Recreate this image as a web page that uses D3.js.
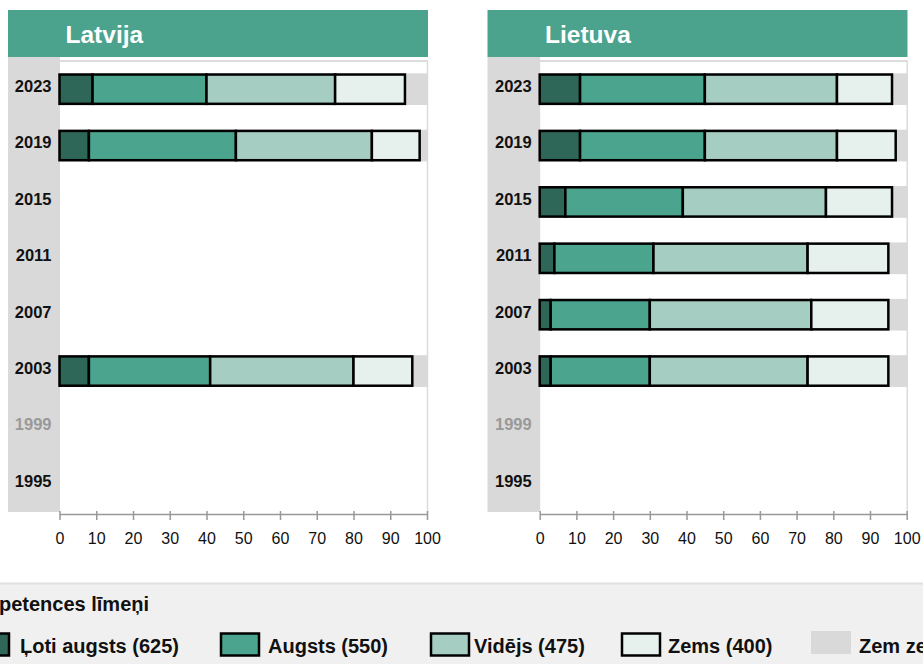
<!DOCTYPE html>
<html><head><meta charset="utf-8">
<script src="https://cdn.jsdelivr.net/npm/d3@7"></script>
<style>
html,body{margin:0;padding:0;background:#fff;}
svg{display:block;font-family:"Liberation Sans",Arial,sans-serif;}
</style></head>
<body><svg id="c" width="923" height="664"></svg>
<script>
// ---- data ----
const years = ["2023","2019","2015","2011","2007","2003","1999","1995"];
const greyYears = ["1999"];
const countries = ["Latvija","Lietuva"];
const levels = ["Ļoti augsts (625)","Augsts (550)","Vidējs (475)","Zems (400)","Zem zemā līmeņa"];
const levelColors = ["#2e6657","#4ba48e","#a6cdc1","#e6f0ec","#d9d9d9"];
const legendTitle = "Kompetences līmeņi";
const xTicks = [0,10,20,30,40,50,60,70,80,90,100];

// segment widths (%) per year, null = no data
const lvVeryHigh = [9, 8, null, null, null, 8, null, null];
const lvHigh     = [31, 40, null, null, null, 33, null, null];
const lvMedium   = [35, 37, null, null, null, 39, null, null];
const lvLow      = [19, 13, null, null, null, 16, null, null];

const ltVeryHigh = [11, 11, 7, 4, 3, 3, null, null];
const ltHigh     = [34, 34, 32, 27, 27, 27, null, null];
const ltMedium   = [36, 36, 39, 42, 44, 43, null, null];
const ltLow      = [15, 16, 18, 22, 21, 22, null, null];

const panelsData = [
  [lvVeryHigh, lvHigh, lvMedium, lvLow],
  [ltVeryHigh, ltHigh, ltMedium, ltLow]
];

// ---- layout ----
const svg = d3.select("#c");
const panelLayout = [
  {hx:8, hw:420, px0:59.5, px1:427},
  {hx:487.5, hw:420, px0:539.7, px1:906.7}
];
const headerY = 10, headerH = 47;
const plotTop = 61, plotBottom = 512, axisY = 514;
const FONT = "'Liberation Sans',Arial,sans-serif";

const y = d3.scaleBand().domain(years).range([plotTop, plotBottom]).paddingInner(0.48).paddingOuter(0.24);

countries.forEach((name, pi) => {
  const L = panelLayout[pi];
  const g = svg.append("g");
  const x = d3.scaleLinear().domain([0,100]).range([L.px0, L.px1]);

  // header
  g.append("rect").attr("x", L.hx).attr("y", headerY).attr("width", L.hw).attr("height", headerH).attr("fill", "#4ca38d");
  g.append("text").attr("x", L.hx + 57.5).attr("y", 43).attr("fill", "#fff")
    .attr("font-size", 24.5).attr("font-weight", "bold").text(name);

  // plot frame lines
  g.append("line").attr("x1", x(0)).attr("x2", x(100)+1).attr("y1", plotTop).attr("y2", plotTop).attr("stroke", "#dcdcdc").attr("stroke-width", 2);
  g.append("line").attr("x1", x(100)+0.5).attr("x2", x(100)+0.5).attr("y1", plotTop).attr("y2", axisY).attr("stroke", "#dcdcdc").attr("stroke-width", 1.5);

  // label band
  g.append("rect").attr("x", L.hx).attr("y", headerY + headerH).attr("width", x(0) - L.hx + 0.5)
    .attr("height", plotBottom - headerY - headerH).attr("fill", "#d9d9d9");

  // year labels
  g.selectAll("text.yl").data(years).join("text").attr("class","yl")
    .attr("x", x(0) - 8).attr("y", d => y(d) + y.bandwidth()/2 - 1.5)
    .attr("text-anchor", "end").attr("dominant-baseline", "middle")
    .attr("font-size", 16.5).attr("font-weight", "bold")
    .attr("fill", d => greyYears.includes(d) ? "#999" : "#111").text(d => d);

  // rows
  const series = panelsData[pi];
  years.forEach((yr, i) => {
    if (series[0][i] == null) return;
    const by = y(yr);
    // background grey band (below lowest level)
    g.append("rect").attr("x", x(0)).attr("y", by - 1.2).attr("width", x(100) - x(0) + 1)
      .attr("height", y.bandwidth() + 2.4).attr("fill", levelColors[4]);
    let cum = 0;
    series.forEach((s, k) => {
      const v = s[i];
      g.append("rect").attr("x", x(cum)).attr("y", by).attr("width", x(cum + v) - x(cum))
        .attr("height", y.bandwidth()).attr("fill", levelColors[k])
        .attr("stroke", "#000").attr("stroke-width", 2.5);
      cum += v;
    });
  });

  // axis
  const ax = g.append("g").attr("transform", `translate(0,${axisY})`)
    .call(d3.axisBottom(x).tickValues(xTicks).tickSizeInner(6).tickSizeOuter(0));
  ax.select(".domain").attr("stroke", "#999").attr("stroke-width", 1.5);
  ax.selectAll(".tick line").attr("stroke", "#999").attr("stroke-width", 1.5).attr("y1", -3);
  ax.selectAll(".tick text").attr("y", 19).attr("font-size", 16).attr("fill", "#111").attr("font-family", FONT);
});

// ---- legend ----
const lg = svg.append("g");
lg.append("rect").attr("x", 0).attr("y", 583).attr("width", 923).attr("height", 81).attr("fill", "#f0f0f0");
lg.append("line").attr("x1", 0).attr("x2", 923).attr("y1", 583.5).attr("y2", 583.5).attr("stroke", "#e0e0e0").attr("stroke-width", 2);

const tmp = lg.append("text").attr("font-size", 20).attr("font-weight", "bold").text("Kom");
const komW = tmp.node().getComputedTextLength();
tmp.remove();
lg.append("text").attr("x", -komW - 1).attr("y", 611).attr("font-size", 20).attr("font-weight", "bold")
  .attr("fill", "#111").text(legendTitle);

const swX = [-29, 221, 431, 622, 811];
const txX = [20, 268, 474, 668, 859];
levels.forEach((lab, k) => {
  const isGrey = k === 4;
  lg.append("rect").attr("x", swX[k]).attr("y", isGrey ? 631 : 633.5).attr("width", isGrey ? 40 : 38)
    .attr("height", isGrey ? 23 : 22).attr("fill", levelColors[k])
    .attr("stroke", isGrey ? "none" : "#000").attr("stroke-width", 2.5);
  lg.append("text").attr("x", txX[k]).attr("y", 653).attr("font-size", 20).attr("font-weight", "bold")
    .attr("fill", "#111").text(lab);
});
</script>
</body></html>
